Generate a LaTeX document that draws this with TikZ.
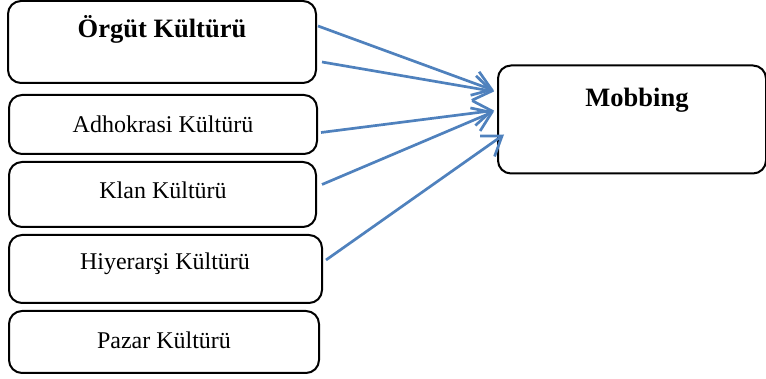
\documentclass[tikz,border=0pt]{standalone}
\usepackage{fontspec}
\setmainfont{Liberation Serif}
\usetikzlibrary{arrows.meta,calc}
\begin{document}
\begin{tikzpicture}[x=1pt,y=-1pt,
  box/.style={draw=black,line width=2pt,rounded corners=13pt,minimum width=#1,inner sep=0pt},
  lbl/.style={font=\fontsize{24}{28}\selectfont,inner sep=0pt},
  blbl/.style={font=\fontsize{26.5}{30}\selectfont\bfseries,inner sep=0pt},
  conn/.style={draw={rgb,255:red,79;green,129;blue,189},line width=2.7pt,-{Straight Barb[length=18pt,width=25pt,line width=2.7pt]}}]
\useasboundingbox (0,0) rectangle (766,379);
\node[box=308pt,minimum height=82pt] (b1) at (162,42) {};
\node[box=308pt,minimum height=59pt] (b2) at (163,124.5) {};
\node[box=307pt,minimum height=65pt] (b3) at (162.5,194.5) {};
\node[box=313pt,minimum height=68pt] (b4) at (165.5,269) {};
\node[box=310pt,minimum height=62pt] (b5) at (164,342) {};
\node[box=268pt,minimum height=108pt] (mob) at (632,119.5) {};
\node[blbl] (t1) at (162,29) {Örgüt Kültürü};
\node[lbl] (t2) at (163,124) {Adhokrasi Kültürü};
\node[lbl] (t3) at (163,190) {Klan Kültürü};
\node[lbl] (t4) at (165,264) {Hiyerarşi Kültürü};
\node[lbl] (t5) at (164,340) {Pazar Kültürü};
\node[blbl] (tm) at (637,100) {Mobbing};
\draw[conn] ($(b1.north east)+(1,26)$) -- ($(mob.north west)+(-3,26)$);
\draw[conn] ($(b1.north east)+(5,62)$) -- ($(mob.north west)+(-3,27)$);
\draw[conn] ($(b2.east)+(3,8)$) -- ($(mob.north west)+(-3,46)$);
\draw[conn] ($(b3.east)+(5,-10)$) -- ($(mob.north west)+(-3,47)$);
\draw[conn] ($(b4.east)+(3,-9)$) -- ($(mob.north west)+(7,70)$);
\end{tikzpicture}
\end{document}
